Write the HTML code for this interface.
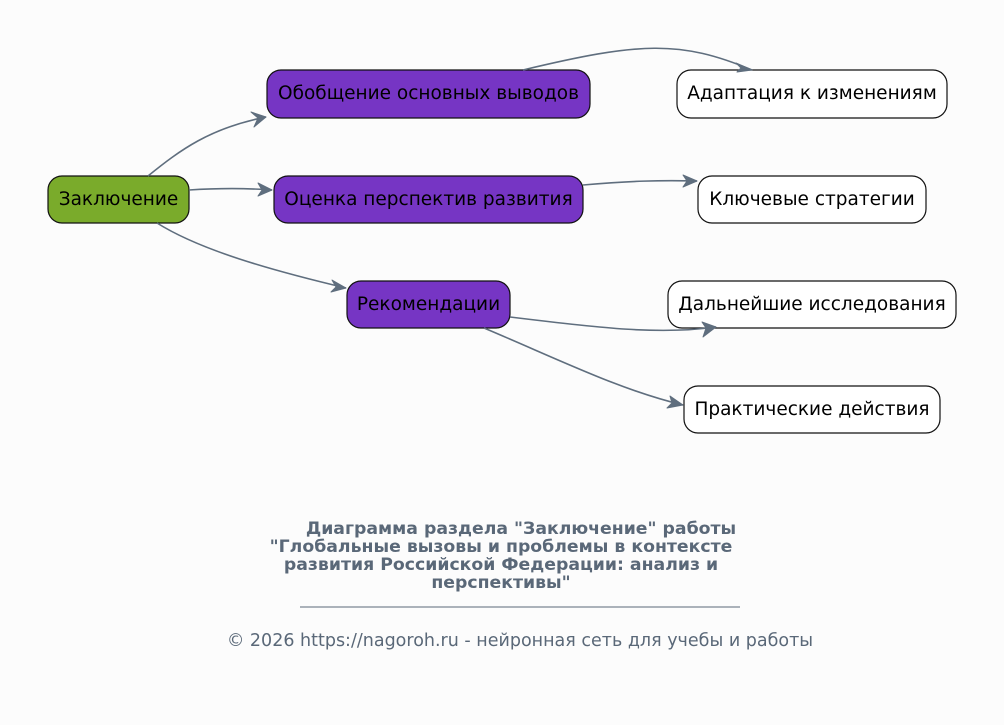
<!DOCTYPE html>
<html><head><meta charset="utf-8"><style>
body{margin:0;background:#fcfcfc;}
svg{display:block;font-family:"DejaVu Sans","Liberation Sans",sans-serif;}
</style></head><body>
<svg width="1004" height="725" viewBox="0 0 1004 725">
<rect width="1004" height="725" fill="#fcfcfc"/>
<g stroke="#111" stroke-width="1.2">
<rect x="48" y="176" width="141" height="47" rx="14" fill="#7aab2b"/>
<rect x="267" y="70" width="323" height="48" rx="14" fill="#7635c4"/>
<rect x="274" y="176" width="309" height="47" rx="14" fill="#7635c4"/>
<rect x="347" y="281" width="163" height="47" rx="14" fill="#7635c4"/>
<rect x="677" y="70" width="270" height="48" rx="14" fill="#fff"/>
<rect x="698" y="176" width="228" height="47" rx="14" fill="#fff"/>
<rect x="668" y="281" width="288" height="47" rx="14" fill="#fff"/>
<rect x="684" y="386" width="256" height="47" rx="14" fill="#fff"/>
</g>
<g fill="none" stroke="#5f6e7e" stroke-width="1.6">
<path d="M148,176 C180,150 210,128 266,117"/>
<path d="M189,190 C220,188 245,188 272,190"/>
<path d="M157,223 C200,250 270,270 346,288"/>
<path d="M523,70 C640,42 680,40 752,70"/>
<path d="M583,185 C630,181 660,180 697,181"/>
<path d="M510,317 C600,328 660,335 716,327"/>
<path d="M484,328 C560,360 620,390 683,405"/>
</g>
<g fill="#5f6e7e" stroke="#5f6e7e" stroke-width="1" stroke-linejoin="round">
<path d="M251,112 L266,117 L254,127 L258,118 Z"/>
<path d="M258,183 L272,190 L258,196 L262,190 Z"/>
<path d="M332,280 L346,288 L331,292 L336,287 Z"/>
<path d="M736,63 L752,70 L737,72 L741,68 Z"/>
<path d="M683,175 L697,181 L683,187 L687,181 Z"/>
<path d="M702,322 L716,327 L703,337 L706,328 Z"/>
<path d="M670,396 L683,405 L667,408 L672,403 Z"/>
</g>
<g font-size="18.5" fill="#000" text-anchor="middle">
<text x="118.5" y="205">Заключение</text>
<text x="428.5" y="99">Обобщение основных выводов</text>
<text x="428.5" y="205">Оценка перспектив развития</text>
<text x="428.5" y="310">Рекомендации</text>
<text x="812" y="99">Адаптация к изменениям</text>
<text x="812" y="205">Ключевые стратегии</text>
<text x="812" y="310">Дальнейшие исследования</text>
<text x="812" y="415">Практические действия</text>
</g>
<g font-size="17.3" font-weight="bold" fill="#5a6878" text-anchor="middle">
<text x="521" y="534">Диаграмма раздела "Заключение" работы</text>
<text x="501" y="552">"Глобальные вызовы и проблемы в контексте</text>
<text x="501" y="570">развития Российской Федерации: анализ и</text>
<text x="501" y="588">перспективы"</text>
</g>
<line x1="300" y1="607" x2="740" y2="607" stroke="#5a6878" stroke-width="1"/>
<text x="520" y="646" font-size="17.5" fill="#5a6878" text-anchor="middle">© 2026 https://nagoroh.ru - нейронная сеть для учебы и работы</text>
</svg>
</body></html>
